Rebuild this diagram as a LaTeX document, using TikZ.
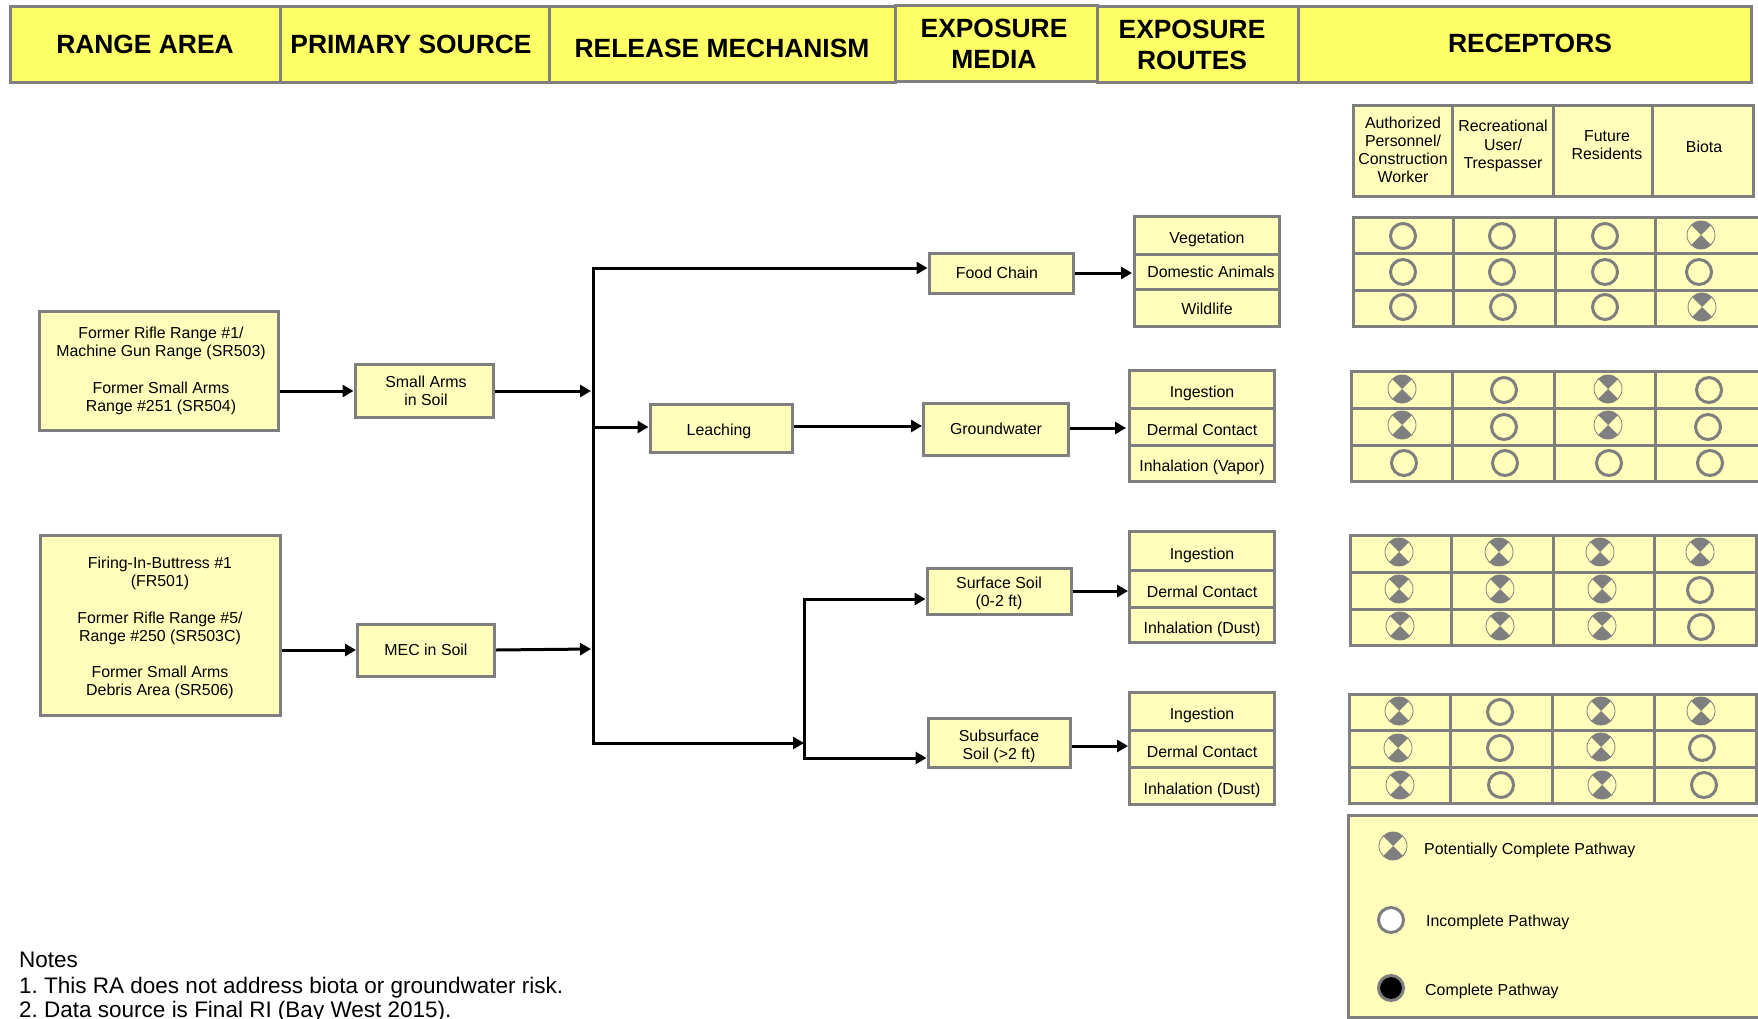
\documentclass[tikz,border=0pt]{standalone}
\usepackage{fontspec}
\setmainfont{Liberation Sans}
\usetikzlibrary{arrows.meta}
\definecolor{framegray}{HTML}{7F7F7F}
\definecolor{headyellow}{HTML}{FFFF66}
\definecolor{paleyellow}{HTML}{FFFFBB}
\tikzset{
  headcell/.style={draw=framegray,line width=3pt,fill=headyellow},
  palecell/.style={draw=framegray,line width=3pt,fill=paleyellow},
  headtext/.style={font=\fontsize{26.4}{31}\selectfont\bfseries,align=center,inner sep=0pt},
  boxtext/.style={font=\fontsize{15.9}{18.2}\selectfont,align=center,inner sep=0pt},
  routebox/.style={palecell,boxtext,minimum width=145pt,text height=17.5pt,text depth=0pt},
  openmark/.style={circle,draw=framegray,line width=3pt,minimum size=25pt,inner sep=0pt},
  fullmark/.style={openmark,fill=black},
  pcmark/.style={circle,draw=framegray,line width=0.8pt,minimum size=28pt,inner sep=0pt,
    path picture={
      \fill[framegray] (path picture bounding box.center) -- (path picture bounding box.north west) -- (path picture bounding box.north east) -- cycle;
      \fill[framegray] (path picture bounding box.center) -- (path picture bounding box.south west) -- (path picture bounding box.south east) -- cycle;
    }},
  link/.style={draw=black,line width=3pt},
  arrowlink/.style={link,-{Triangle[length=11pt,width=12pt]}},
  notetext/.style={font=\fontsize{22.5}{25}\selectfont,anchor=west,inner sep=0pt}
}
\begin{document}
\begin{tikzpicture}[x=1pt,y=-1pt]
\clip (0,0) rectangle (1758,1018);

\draw[headcell] (10,6) rectangle (280,82);
\draw[headcell] (280,6) rectangle (549,82);
\draw[headcell] (549,6) rectangle (895,82);
\draw[headcell] (895,5) rectangle (1097,81);
\draw[headcell] (1097,6) rectangle (1298,82);
\draw[headcell] (1298,6) rectangle (1751,82);
\node[headtext] (headrange) at (145,44) {RANGE AREA};
\node[headtext] (headsource) at (411,44) {PRIMARY SOURCE};
\node[headtext] (headrelease) at (722,48) {RELEASE MECHANISM};
\node[headtext] (headmedia) at (994,44) {EXPOSURE\\MEDIA};
\node[headtext] (headroutes) at (1192,45) {EXPOSURE\\ROUTES};
\node[headtext] (headreceptors) at (1530,43) {RECEPTORS};

\draw[palecell] (1353,105) rectangle (1452,196);
\draw[palecell] (1452,105) rectangle (1553,196);
\draw[palecell] (1553,105) rectangle (1652,196);
\draw[palecell] (1652,105) rectangle (1753,196);
\node[boxtext] (authorized) at (1403,150) {Authorized\\Personnel/\\Construction\\Worker};
\node[boxtext] (recreational) at (1503,146) {Recreational\\User/\\Trespasser};
\node[boxtext] (future) at (1607,145) {Future\\Residents};
\node[boxtext] (biota) at (1704,147) {Biota};

\node[palecell,minimum width=239pt,minimum height=119pt] (rangeone) at (159,371) {};
\node[palecell,minimum width=240pt,minimum height=180pt] (rangetwo) at (160,625) {};
\node[palecell,minimum width=138pt,minimum height=53pt] (smallarms) at (424,391) {};
\node[palecell,boxtext,minimum width=137pt,minimum height=52pt] (mec) at (426,650) {MEC in Soil};
\node[palecell,minimum width=142pt,minimum height=48pt] (leaching) at (721,428) {};
\node[palecell,minimum width=144pt,minimum height=40pt] (foodchain) at (1001,273) {};
\node[palecell,boxtext,minimum width=145pt,minimum height=52pt] (groundwater) at (996,429) {Groundwater};
\node[palecell,minimum width=144pt,minimum height=46pt] (surface) at (999,591) {};
\node[palecell,minimum width=142pt,minimum height=49pt] (subsurface) at (999,743) {};
\node[boxtext] (rangeonetext) at (161,371) {Former Rifle Range \#1/\\Machine Gun Range (SR503)\\[18.2pt]Former Small Arms\\Range \#251 (SR504)};
\node[boxtext] (rangetwotext) at (160,628) {Firing-In-Buttress \#1\\(FR501)\\[18.2pt]Former Rifle Range \#5/\\Range \#250 (SR503C)\\[18.2pt]Former Small Arms\\Debris Area (SR506)};
\node[boxtext] (smallarmstext) at (426,391) {Small Arms\\in Soil};
\node[boxtext] (leachingtext) at (719,431) {Leaching};
\node[boxtext] (foodtext) at (997,273) {Food Chain};
\node[boxtext] (surfacetext) at (999,593) {Surface Soil\\(0-2 ft)};
\node[boxtext] (subsurfacetext) at (999,746) {Subsurface\\Soil (>2 ft)};

\node[routebox,minimum height=38pt] (vegetation) at (1207,235) {Vegetation};
\node[routebox,minimum height=36pt] (domestic) at (1207,272) {};
\node[boxtext] (domestictext) at (1211,272) {Domestic Animals};
\node[routebox,minimum height=37pt,text height=12.5pt] (wildlife) at (1207,308) {Wildlife};
\node[routebox,minimum height=38pt] (gwingest) at (1202,389) {Ingestion};
\node[routebox,minimum height=37pt] (gwdermal) at (1202,426.5) {Dermal Contact};
\node[routebox,minimum height=36pt] (gwinhale) at (1202,463) {Inhalation (Vapor)};
\node[routebox,minimum height=39pt] (ssingest) at (1202,550.5) {Ingestion};
\node[routebox,minimum height=37pt] (ssdermal) at (1202,588.5) {Dermal Contact};
\node[routebox,minimum height=35pt] (ssinhale) at (1202,624.5) {Inhalation (Dust)};
\node[routebox,minimum height=38pt] (subingest) at (1202,711) {Ingestion};
\node[routebox,minimum height=37pt] (subdermal) at (1202,748.5) {Dermal Contact};
\node[routebox,minimum height=37pt] (subinhale) at (1202,785.5) {Inhalation (Dust)};

\coordinate (bustop) at (593,268);
\coordinate (busbottom) at (593,743);
\coordinate (busarms) at (591,391);
\coordinate (busmec) at (591,649);
\coordinate (busleach) at (593,427);
\coordinate (forktop) at (804,599);
\coordinate (forkbottom) at (804,758);
\coordinate (forkmid) at (804,743);
\coordinate (foodin) at (foodchain.west |- bustop);
\coordinate (gwout) at (leaching.east |- 0,426);
\coordinate (gwin) at (groundwater.west |- 0,426);
\coordinate (surfin) at (surface.west |- forktop);
\coordinate (subin) at (subsurface.west |- forkbottom);
\coordinate (vegin) at (1132,273);
\coordinate (gwroute) at (1126,428);
\coordinate (ssroute) at (1128,591);
\coordinate (subroute) at (1128,746);

\draw[arrowlink] (rangeone.east |- smallarms) -- (smallarms.west);
\draw[arrowlink] (rangetwo.east |- mec) -- (mec.west);
\draw[arrowlink] (smallarms.east) -- (busarms);
\draw[arrowlink] (mec.east) -- (busmec);
\draw[link,line cap=rect] (bustop) -- (busbottom);
\draw[arrowlink] (bustop) -- (foodin);
\draw[arrowlink] (busleach) -- (leaching.west |- busleach);
\draw[arrowlink] (gwout) -- (gwin);
\draw[arrowlink] (busbottom) -- (forkmid);
\draw[link,line cap=rect] (forktop) -- (forkbottom);
\draw[arrowlink] (forktop) -- (surfin);
\draw[arrowlink] (forkbottom) -- (subin);
\draw[arrowlink] (foodchain.east) -- (vegin);
\draw[arrowlink] (groundwater.east |- gwroute) -- (gwroute);
\draw[arrowlink] (surface.east) -- (ssroute);
\draw[arrowlink] (subsurface.east |- subroute) -- (subroute);

\draw[palecell] (1353,217) rectangle (1453,253);
\draw[palecell] (1453,217) rectangle (1555,253);
\draw[palecell] (1555,217) rectangle (1655,253);
\draw[palecell] (1655,217) rectangle (1770,253);
\draw[palecell] (1353,253) rectangle (1453,290);
\draw[palecell] (1453,253) rectangle (1555,290);
\draw[palecell] (1555,253) rectangle (1655,290);
\draw[palecell] (1655,253) rectangle (1770,290);
\draw[palecell] (1353,290) rectangle (1453,326);
\draw[palecell] (1453,290) rectangle (1555,326);
\draw[palecell] (1555,290) rectangle (1655,326);
\draw[palecell] (1655,290) rectangle (1770,326);

\draw[palecell] (1351,371) rectangle (1452,408);
\draw[palecell] (1452,371) rectangle (1554,408);
\draw[palecell] (1554,371) rectangle (1655,408);
\draw[palecell] (1655,371) rectangle (1770,408);
\draw[palecell] (1351,408) rectangle (1452,445);
\draw[palecell] (1452,408) rectangle (1554,445);
\draw[palecell] (1554,408) rectangle (1655,445);
\draw[palecell] (1655,408) rectangle (1770,445);
\draw[palecell] (1351,445) rectangle (1452,481);
\draw[palecell] (1452,445) rectangle (1554,481);
\draw[palecell] (1554,445) rectangle (1655,481);
\draw[palecell] (1655,445) rectangle (1770,481);

\draw[palecell] (1350,535) rectangle (1451,572);
\draw[palecell] (1451,535) rectangle (1553,572);
\draw[palecell] (1553,535) rectangle (1654,572);
\draw[palecell] (1654,535) rectangle (1756,572);
\draw[palecell] (1350,572) rectangle (1451,609);
\draw[palecell] (1451,572) rectangle (1553,609);
\draw[palecell] (1553,572) rectangle (1654,609);
\draw[palecell] (1654,572) rectangle (1756,609);
\draw[palecell] (1350,609) rectangle (1451,645);
\draw[palecell] (1451,609) rectangle (1553,645);
\draw[palecell] (1553,609) rectangle (1654,645);
\draw[palecell] (1654,609) rectangle (1756,645);

\draw[palecell] (1349,694) rectangle (1450,730);
\draw[palecell] (1450,694) rectangle (1552,730);
\draw[palecell] (1552,694) rectangle (1654,730);
\draw[palecell] (1654,694) rectangle (1756,730);
\draw[palecell] (1349,730) rectangle (1450,767);
\draw[palecell] (1450,730) rectangle (1552,767);
\draw[palecell] (1552,730) rectangle (1654,767);
\draw[palecell] (1654,730) rectangle (1756,767);
\draw[palecell] (1349,767) rectangle (1450,803);
\draw[palecell] (1450,767) rectangle (1552,803);
\draw[palecell] (1552,767) rectangle (1654,803);
\draw[palecell] (1654,767) rectangle (1756,803);

\node[openmark] (veg1) at (1403,236) {};
\node[openmark] (veg2) at (1502,236) {};
\node[openmark] (veg3) at (1605,236) {};
\node[pcmark] (veg4) at (1701,235) {};
\node[openmark] (dom1) at (1403,272) {};
\node[openmark] (dom2) at (1502,272) {};
\node[openmark] (dom3) at (1605,272) {};
\node[openmark] (dom4) at (1699,272) {};
\node[openmark] (wild1) at (1403,307) {};
\node[openmark] (wild2) at (1503,307) {};
\node[openmark] (wild3) at (1605,307) {};
\node[pcmark] (wild4) at (1702,307) {};

\node[pcmark] (gwa1) at (1402,389) {};
\node[openmark] (gwa2) at (1504,390) {};
\node[pcmark] (gwa3) at (1608,389) {};
\node[openmark] (gwa4) at (1709,390) {};
\node[pcmark] (gwb1) at (1402,425) {};
\node[openmark] (gwb2) at (1504,427) {};
\node[pcmark] (gwb3) at (1608,425) {};
\node[openmark] (gwb4) at (1708,427) {};
\node[openmark] (gwc1) at (1404,463) {};
\node[openmark] (gwc2) at (1505,463) {};
\node[openmark] (gwc3) at (1609,463) {};
\node[openmark] (gwc4) at (1710,463) {};

\node[pcmark] (ssa1) at (1399,552) {};
\node[pcmark] (ssa2) at (1499,552) {};
\node[pcmark] (ssa3) at (1600,552) {};
\node[pcmark] (ssa4) at (1700,552) {};
\node[pcmark] (ssb1) at (1399,589) {};
\node[pcmark] (ssb2) at (1500,589) {};
\node[pcmark] (ssb3) at (1602,589) {};
\node[openmark] (ssb4) at (1700,590) {};
\node[pcmark] (ssc1) at (1400,626) {};
\node[pcmark] (ssc2) at (1500,626) {};
\node[pcmark] (ssc3) at (1602,626) {};
\node[openmark] (ssc4) at (1701,627) {};

\node[pcmark] (suba1) at (1399,711) {};
\node[openmark] (suba2) at (1500,712) {};
\node[pcmark] (suba3) at (1601,711) {};
\node[pcmark] (suba4) at (1701,711) {};
\node[pcmark] (subb1) at (1398,748) {};
\node[openmark] (subb2) at (1500,748) {};
\node[pcmark] (subb3) at (1601,747) {};
\node[openmark] (subb4) at (1702,748) {};
\node[pcmark] (subc1) at (1400,785) {};
\node[openmark] (subc2) at (1501,785) {};
\node[pcmark] (subc3) at (1602,785) {};
\node[openmark] (subc4) at (1704,785) {};

\draw[palecell] (1348,815) rectangle (1770,1017);
\node[pcmark] (keypartial) at (1393,846) {};
\node[openmark,fill=white] (keyopen) at (1391,920) {};
\node[fullmark] (keyfull) at (1391,988) {};
\node[boxtext,anchor=west] (keypartialtext) at (1424,850) {Potentially Complete Pathway};
\node[boxtext,anchor=west] (keyopentext) at (1426,922) {Incomplete Pathway};
\node[boxtext,anchor=west] (keyfulltext) at (1425,991) {Complete Pathway};

\node[notetext] (notehead) at (19,960) {Notes};
\node[notetext] (noteone) at (19,988) {1.\ This RA does not address biota or groundwater risk.};
\node[notetext] (notetwo) at (19,1012) {2.\ Data source is Final RI (Bay West 2015).};

\end{tikzpicture}
\end{document}
